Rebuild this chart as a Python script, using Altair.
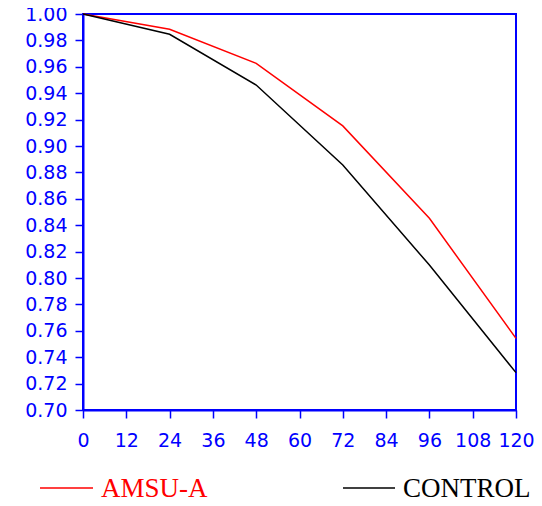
import altair as alt
import pandas as pd

hours = [0, 24, 48, 72, 96, 120]
amsu = [1.0, 0.9884, 0.9626, 0.9152, 0.8452, 0.7543]
control = [1.0, 0.9846, 0.9462, 0.8856, 0.8098, 0.7283]
series_names = ["AMSU-A", "CONTROL"]
series_colors = ["#ff0000", "#000000"]
x_ticks = [0, 12, 24, 36, 48, 60, 72, 84, 96, 108, 120]
y_ticks = [0.70, 0.72, 0.74, 0.76, 0.78, 0.80, 0.82, 0.84, 0.86, 0.88,
           0.90, 0.92, 0.94, 0.96, 0.98, 1.00]

rows = []
for h, a, c in zip(hours, amsu, control):
    rows.append({"hour": h, "value": a, "series": series_names[0]})
    rows.append({"hour": h, "value": c, "series": series_names[1]})
df = pd.DataFrame(rows)

BLUE = "#0000ff"
FONT = "DejaVu Sans"

lines = alt.Chart(df).mark_line(strokeWidth=1.5).encode(
    x=alt.X("hour:Q", scale=alt.Scale(domain=[0, 120], nice=False, zero=False),
            axis=alt.Axis(values=x_ticks, title=None, grid=False, labelPadding=13,
                          labelFlush=False, labelOverlap=False)),
    y=alt.Y("value:Q", scale=alt.Scale(domain=[0.70, 1.00], nice=False, zero=False),
            axis=alt.Axis(values=y_ticks, format=".2f", title=None, grid=False,
                          labelPadding=8, labelFlush=False, labelOverlap=False)),
    color=alt.Color("series:N", scale=alt.Scale(domain=series_names, range=series_colors),
                    legend=None),
    detail="series:N",
)

legend_layers = []
legend_pos = [(-43, 10, 18), (260, 312, 320)]
for name, color, (x1, x2, tx) in zip(series_names, series_colors, legend_pos):
    ldf = pd.DataFrame({"label": [name]})
    rule = alt.Chart(ldf).mark_rule(color=color, strokeWidth=1.5).encode(
        x=alt.value(x1), x2=alt.value(x2), y=alt.value(474)
    )
    txt = alt.Chart(ldf).mark_text(
        align="left", baseline="alphabetic", font="Liberation Serif",
        fontSize=27, color=color
    ).encode(x=alt.value(tx), y=alt.value(483), text="label:N")
    legend_layers += [rule, txt]

chart = alt.layer(lines, *legend_layers).properties(
    width=433, height=396,
    autosize=alt.AutoSizeParams(type="none"),
    padding={"left": 75, "top": 6, "right": 18, "bottom": 88},
).configure_view(
    stroke=BLUE, strokeWidth=2
).configure_axis(
    domainColor=BLUE, domainWidth=2, tickColor=BLUE, tickWidth=1.5, tickSize=8,
    labelColor=BLUE, labelFont=FONT, labelFontSize=19,
)

chart.save("out.html", embed_options={"renderer": "svg", "actions": False})
